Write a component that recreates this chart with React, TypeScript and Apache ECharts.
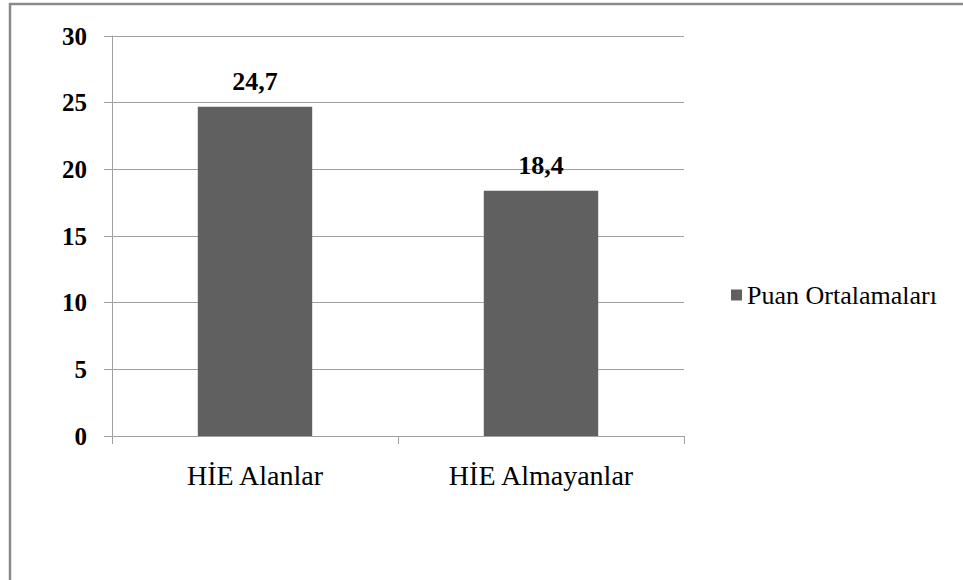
import React, { useEffect, useRef } from "react";
import * as echarts from "echarts";

const categories = ["HİE Alanlar", "HİE Almayanlar"];
const seriesName = "Puan Ortalamaları";
const values = [24.7, 18.4];
const yTicks = [0, 5, 10, 15, 20, 25, 30];

export default function App() {
  const ref = useRef<HTMLDivElement>(null);
  useEffect(() => {
    if (!ref.current) return;
    const chart = echarts.init(ref.current, undefined, { renderer: "svg" });
    const font = "Liberation Serif, DejaVu Serif";
    chart.setOption({
      animation: false,
      textStyle: { fontFamily: font },
      graphic: [
        {
          type: "rect",
          shape: { x: 10, y: 4, width: 2000, height: 2000 },
          style: { fill: "none", stroke: "#8a8a8a", lineWidth: 2.5 },
          silent: true,
        },
      ],
      grid: { left: 112, top: 36, width: 572, height: 400, containLabel: false },
      legend: {
        data: [seriesName],
        orient: "vertical",
        left: 731,
        top: 282,
        padding: 0,
        itemWidth: 11,
        itemHeight: 11,
        itemGap: 5,
        icon: "rect",
        textStyle: { fontFamily: font, fontSize: 26, color: "#000" },
      },
      xAxis: {
        type: "category",
        data: categories,
        axisLine: { lineStyle: { color: "#a0a0a0", width: 1 } },
        axisTick: { show: true, length: 8, lineStyle: { color: "#a0a0a0" }, alignWithLabel: false },
        axisLabel: { fontFamily: font, fontSize: 28, color: "#000", margin: 25 },
      },
      yAxis: {
        type: "value",
        min: yTicks[0],
        max: yTicks[yTicks.length - 1],
        interval: 5,
        axisLine: { show: true, lineStyle: { color: "#a0a0a0", width: 1 } },
        axisTick: { show: true, length: 8, lineStyle: { color: "#a0a0a0" } },
        splitLine: { show: true, lineStyle: { color: "#a0a0a0", width: 1 } },
        axisLabel: { fontFamily: font, fontSize: 25, fontWeight: "bold", color: "#000", margin: 25 },
      },
      series: [
        {
          name: seriesName,
          type: "bar",
          data: values,
          barWidth: "40%",
          itemStyle: { color: "#606060" },
          label: {
            show: true,
            position: "top",
            distance: 12,
            fontFamily: font,
            fontSize: 26,
            fontWeight: "bold",
            color: "#000",
            formatter: (p: any) => String(p.value).replace(".", ","),
          },
        },
      ],
    });
    return () => chart.dispose();
  }, []);
  return (
    <div
      ref={ref}
      style={{ position: "absolute", left: 0, top: 0, width: 963, height: 580, background: "#fff" }}
    />
  );
}
